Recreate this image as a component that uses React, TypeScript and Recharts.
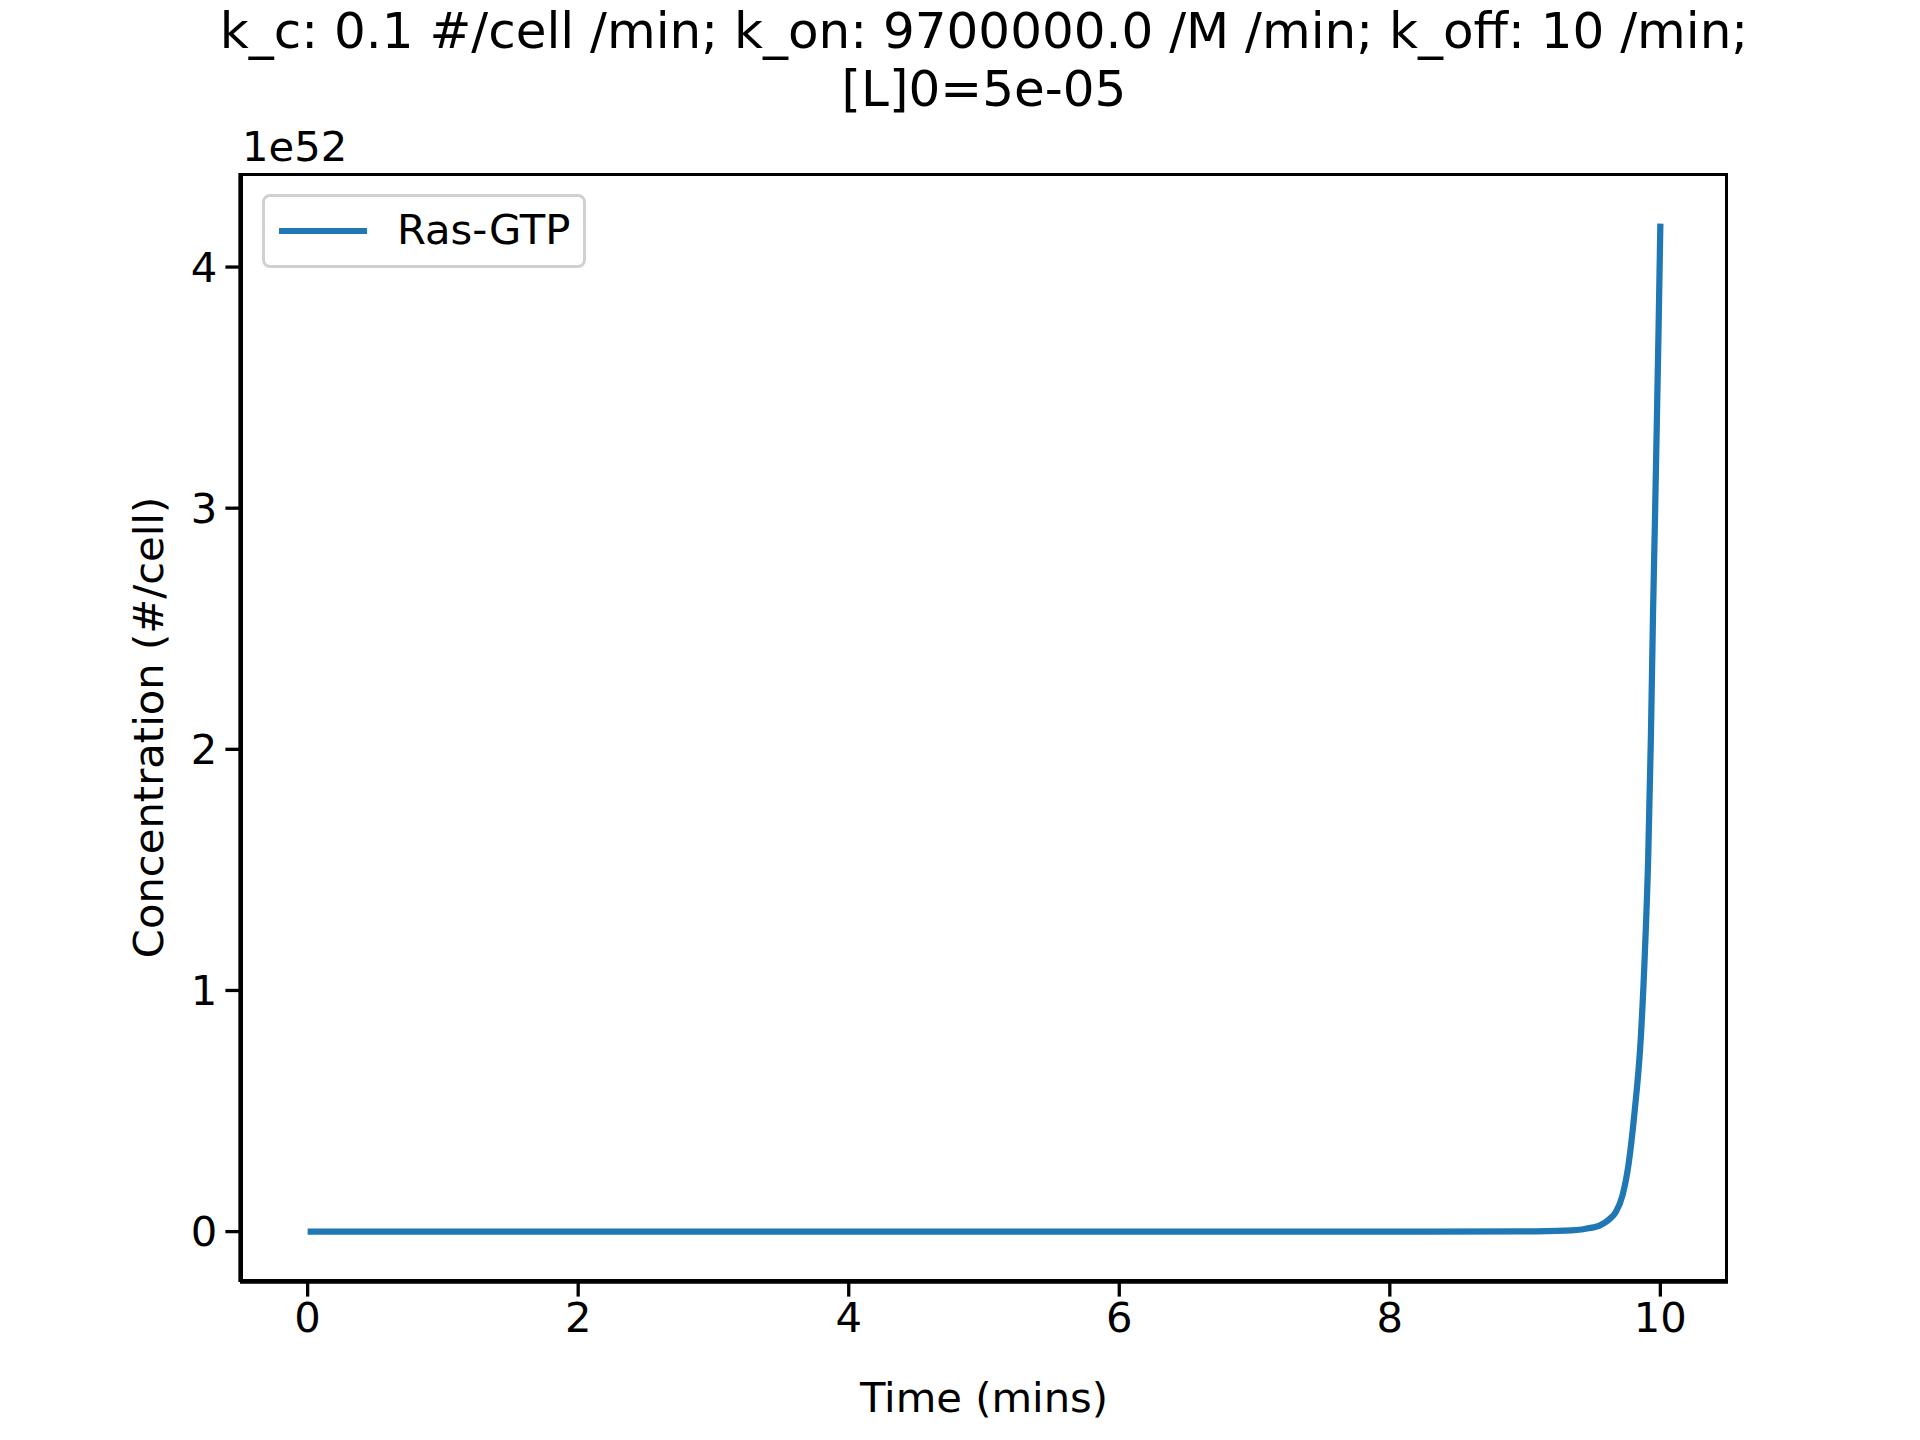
import React from 'react';
import { LineChart, Line, XAxis, YAxis, Label } from 'recharts';

const times = [0, 1, 2, 3, 4, 5, 6, 7, 8, 9, 9.3, 9.45, 9.55, 9.62, 9.67, 9.72, 9.765, 9.81, 9.855, 9.885, 9.91, 9.93, 9.946, 9.96, 9.973, 9.987, 10];
const rasGtp = [0, 0, 0, 0, 0, 0, 0, 0, 0, 0.001, 0.004, 0.012, 0.025, 0.05, 0.08, 0.15, 0.28, 0.5, 0.8, 1.15, 1.55, 2.05, 2.57, 2.95, 3.33, 3.75, 4.18];
const xTicks = [0, 2, 4, 6, 8, 10];
const yTicks = [0, 1, 2, 3, 4];
const data = times.map((t, i) => ({ t, v: rasGtp[i] }));

const FONT = 'DejaVu Sans';
const tickStyle = { fontFamily: FONT, fontSize: 41.7, fill: '#000' };

const LegendBox = () => (
  <div style={{ position: 'absolute', left: 262, top: 194, width: 324, height: 74, border: '3px solid #d0d0d0', borderRadius: 8, background: '#fff', boxSizing: 'border-box', fontFamily: FONT, fontSize: 41.7 }}>
    <div style={{ position: 'absolute', left: 14, top: 31, width: 88, height: 6, background: '#1f77b4' }} />
    <div style={{ position: 'absolute', left: 132, top: 8, lineHeight: '50px' }}>Ras-GTP</div>
  </div>
);

export default function App() {
  return (
    <div style={{ position: 'absolute', left: 0, top: 0, width: 1920, height: 1440, background: '#fff', fontFamily: FONT }}>
      <div style={{ position: 'absolute', left: 0, width: 1968, top: 2, textAlign: 'center', fontSize: 50, lineHeight: '58px' }}>
        k_c: 0.1 #/cell /min; k_on: 9700000.0 /M /min; k_off: 10 /min;<br />[L]0=5e-05
      </div>
      <div style={{ position: 'absolute', left: 242, top: 122, fontSize: 41.7 }}>1e52</div>
      <LineChart width={1920} height={1440} data={data} margin={{ top: 173, right: 192, bottom: 0, left: 0 }} style={{ position: 'absolute', left: 0, top: 0 }}>
        <XAxis dataKey="t" type="number" domain={[-0.5, 10.5]} ticks={xTicks} height={158}
          tick={tickStyle} tickSize={14.6} tickMargin={6}
          axisLine={{ stroke: '#000', strokeWidth: 3.3 }} tickLine={{ stroke: '#000', strokeWidth: 3.3 }}>
          <Label value="Time (mins)" position="insideBottom" offset={28} style={{ fontFamily: FONT, fontSize: 41.7, fill: '#000' }} />
        </XAxis>
        <YAxis type="number" domain={[-0.209, 4.39]} ticks={yTicks} width={240} allowDataOverflow
          tick={tickStyle} tickSize={14.6} tickMargin={8}
          axisLine={{ stroke: '#000', strokeWidth: 3.3 }} tickLine={{ stroke: '#000', strokeWidth: 3.3 }}>
          <Label value="Concentration (#/cell)" angle={-90} position="insideLeft" offset={148} style={{ fontFamily: FONT, fontSize: 41.7, fill: '#000', textAnchor: 'middle' }} />
        </YAxis>
        <Line dataKey="v" type="monotone" stroke="#1f77b4" strokeWidth={6.25} dot={false} isAnimationActive={false} />
      </LineChart>
      <LegendBox />
      <div style={{ position: 'absolute', left: 240, top: 173, width: 1488, height: 1109, border: '3.3px solid #000', boxSizing: 'border-box', pointerEvents: 'none' }} />
    </div>
  );
}
